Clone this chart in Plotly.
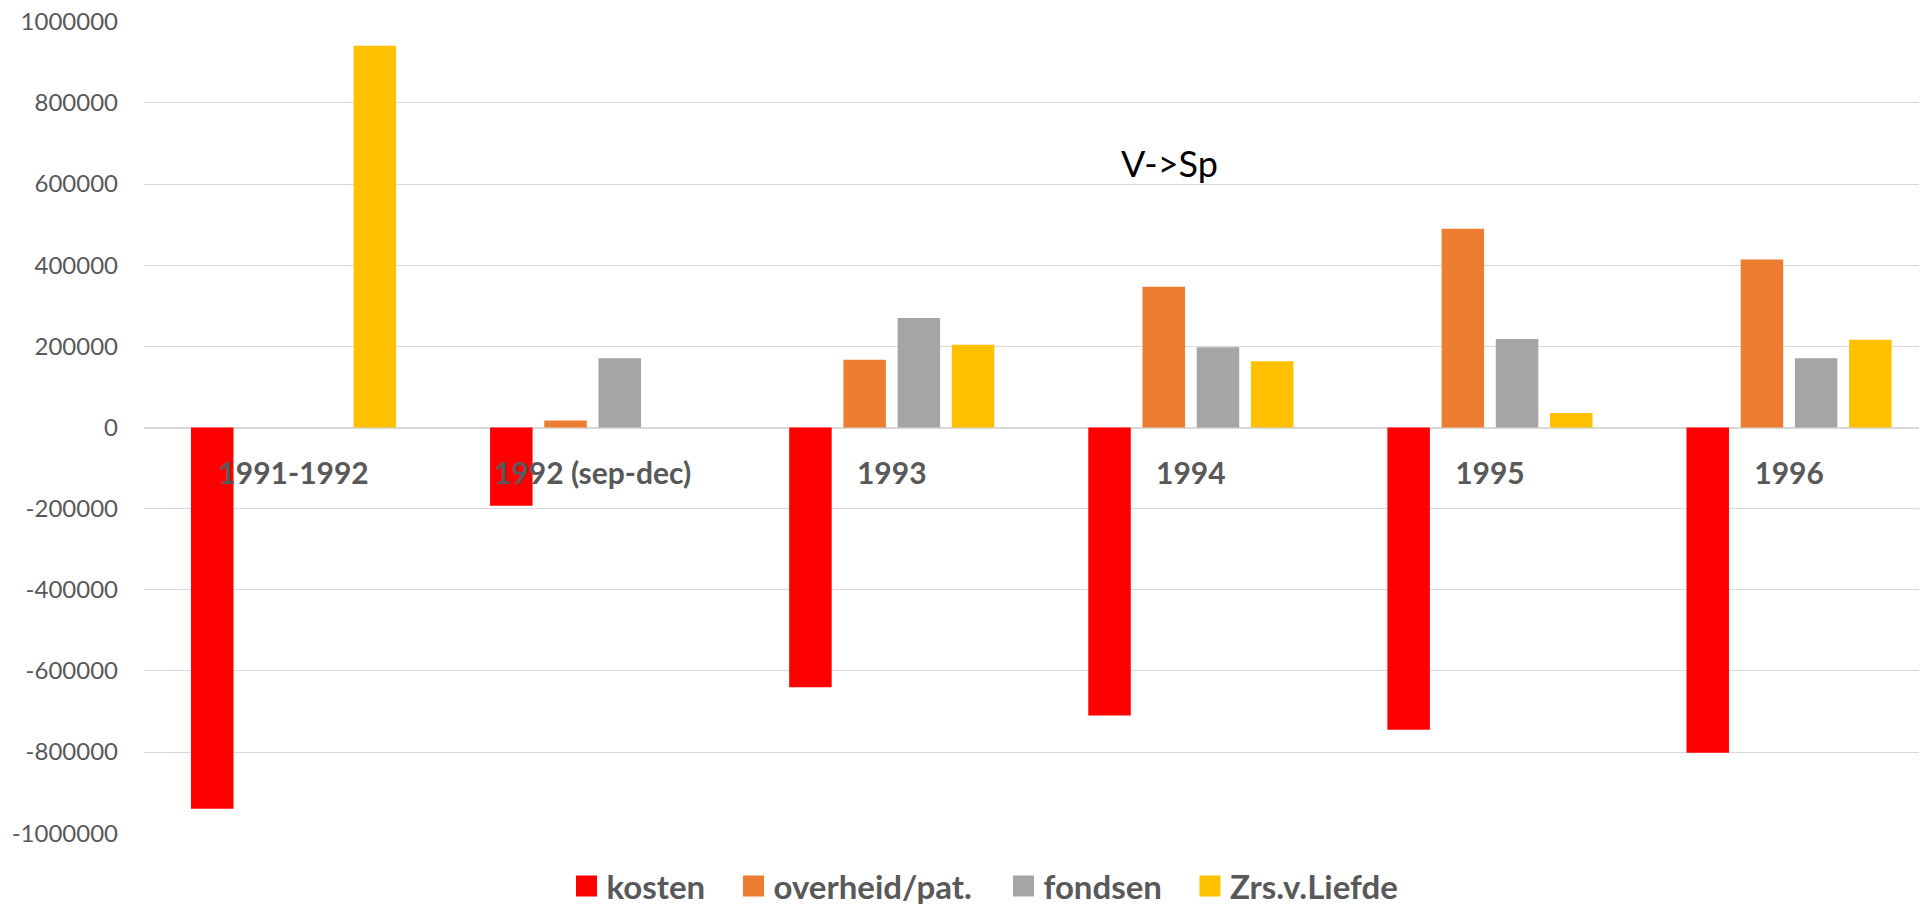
import plotly.graph_objects as go

categories = ["1991-1992", "1992 (sep-dec)", "1993", "1994", "1995", "1996"]
kosten = [-940000, -193000, -640000, -710000, -745000, -802000]
overheid = [0, 17000, 167000, 347000, 490000, 414000]
fondsen = [0, 171000, 270000, 198000, 218000, 171000]
zrs = [941000, 0, 204000, 163000, 36000, 216000]

series_names = ["kosten", "overheid/pat.", "fondsen", "Zrs.v.Liefde"]
series_values = [kosten, overheid, fondsen, zrs]
series_colors = ["#FF0000", "#ED7D31", "#A5A5A5", "#FFC000"]

y_tick_vals = [1000000, 800000, 600000, 400000, 200000, 0,
               -200000, -400000, -600000, -800000, -1000000]
y_tick_labels = ["1000000", "800000", "600000", "400000", "200000", "0",
                 "-200000", "-400000", "-600000", "-800000", "-1000000"]

# page is offset by the browser's default 8px body margin
OFF = 8
W, H = 1927 - OFF, 908 - OFF
ML = 144 - OFF
MT = 13
MB = 74
MR = 0
PW = W - ML - MR
PH = H - MT - MB
YLIM = 1002000

fig = go.Figure()
for name, vals, col in zip(series_names, series_values, series_colors):
    fig.add_trace(go.Bar(x=categories, y=vals, name=name, marker_color=col,
                         marker_line_width=0, showlegend=False))

# legend entries (one legend per item, placed like the original)
legend_centers = [586, 753, 1023, 1209.5]
legend_keys = ["legend", "legend2", "legend3", "legend4"]
for name, col, key in zip(series_names, series_colors, legend_keys):
    fig.add_trace(go.Scatter(x=[None], y=[None], mode="markers", name=name,
                             marker=dict(symbol="square", size=20, color=col,
                                         line=dict(color=col, width=5)),
                             legend=key, showlegend=True))

legend_font = dict(family="Lato", size=33, color="#595959", weight="bold")
for key, cx in zip(legend_keys, legend_centers):
    fig.update_layout({key: dict(x=(cx - OFF - 19.5) / W, xanchor="left",
                                 xref="container", yref="paper",
                                 y=(MT + PH - (H + 6)) / PH, yanchor="bottom",
                                 orientation="h",
                                 font=legend_font, bgcolor="rgba(0,0,0,0)",
                                 itemsizing="trace", borderwidth=0)})

fig.add_annotation(text="V->Sp", xref="x", yref="y",
                   x=3, y=652000, xshift=1170 - (144 + 3.5 * 299.1),
                   xanchor="center", yanchor="middle", showarrow=False,
                   font=dict(family="Lato", size=36, color="#000000"))

fig.update_layout(
    width=W, height=H,
    margin=dict(l=ML, r=MR, t=MT, b=MB, pad=0, autoexpand=False),
    paper_bgcolor="white", plot_bgcolor="white",
    barmode="group", bargap=0.275, bargroupgap=0.216,
    font=dict(family="Lato", color="#595959"),
    xaxis=dict(type="category", range=[-0.5, -0.5 + PW / 299.1],
               anchor="free", position=0.5, showline=False, ticks="",
               showgrid=False, zeroline=False, automargin=False,
               tickfont=dict(family="Lato", size=30, color="#595959", weight="bold"),
               ticklabelstandoff=25),
    yaxis=dict(range=[-YLIM, YLIM], tickvals=y_tick_vals,
               ticktext=y_tick_labels, showgrid=True, gridcolor="#D9D9D9",
               gridwidth=1.3, zeroline=True, zerolinecolor="#D9D9D9",
               zerolinewidth=1.6, showline=False, ticks="", automargin=False,
               ticklabeloverflow="allow",
               tickfont=dict(family="Lato", size=24, color="#595959"),
               ticklabelstandoff=25),
)

fig.write_html("out.html")
